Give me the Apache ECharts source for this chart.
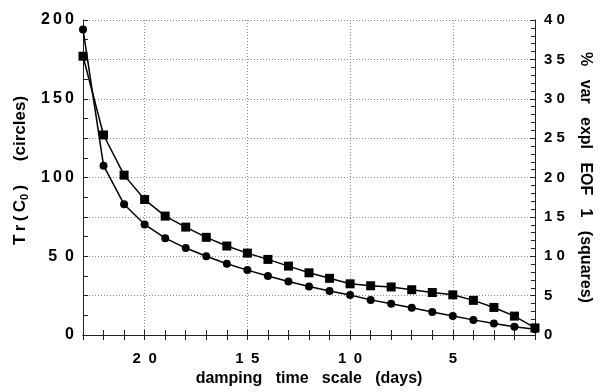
<!DOCTYPE html>
<html>
<head>
<meta charset="utf-8">
<script src="https://cdn.jsdelivr.net/npm/echarts@6/dist/echarts.min.js"></script>
<style>
  html, body { margin: 0; padding: 0; background: #fff; }
  #chart { width: 603px; height: 392px; }
</style>
</head>
<body>
<div id="chart"></div>
<script>
// Damping time scale (days), plotted from long to short
const days = [23, 22, 21, 20, 19, 18, 17, 16, 15, 14, 13, 12, 11, 10, 9, 8, 7, 6, 5, 4, 3, 2, 1];
// Trace of the covariance matrix C0 (circles, left axis)
const traceC0 = [194, 107.5, 83, 70.2, 61.5, 55.2, 50, 45.2, 41.2, 37.5, 34, 30.8, 27.9, 25.4, 22.3, 19.8, 17.3, 14.6, 12.1, 9.6, 7.3, 5.2, 3.7];
// Percent variance explained by EOF 1 (squares, right axis)
const varEOF1 = [35.4, 25.4, 20.3, 17.2, 15.1, 13.7, 12.4, 11.3, 10.4, 9.6, 8.75, 7.9, 7.2, 6.5, 6.25, 6.1, 5.75, 5.4, 5.1, 4.4, 3.5, 2.4, 0.9];
// Labelled x ticks and their printed text
const xTickDays = [20, 15, 10, 5];
const xTickText = ['2\u20020', '1\u20025', '1\u20020', '5'];
const leftTickText = { 0: '0', 50: '5\u20020', 100: '1\u20090\u20090', 150: '1\u20095\u20090', 200: '2\u20090\u20090' };
const rightTickText = { 0: '0', 5: '5', 10: '1 0', 15: '1 5', 20: '2 0', 25: '2 5', 30: '3 0', 35: '3 5', 40: '4 0' };

const FONT = "'Liberation Sans', Arial, sans-serif";
const axisColor = '#222';
const gridLine = { show: true, lineStyle: { color: '#888', type: [1, 2], width: 1 } };
const labelStyle = { color: '#000', fontFamily: FONT, fontWeight: 'bold', fontSize: 15 };

const chart = echarts.init(document.getElementById('chart'), null, { renderer: 'canvas' });

const isLabelled = (idx, val) => xTickDays.indexOf(Number(val)) >= 0;

chart.setOption({
  animation: false,
  backgroundColor: '#fff',
  grid: { left: 83, right: 68, top: 20, bottom: 52, containLabel: false },
  xAxis: [
    {
      type: 'category',
      data: days.map(String),
      boundaryGap: false,
      position: 'bottom',
      axisLine: { lineStyle: { color: axisColor, width: 1 } },
      axisTick: { inside: true, length: 5, interval: 0, lineStyle: { color: axisColor } },
      axisLabel: Object.assign({}, labelStyle, {
        margin: 16,
        interval: isLabelled,
        formatter: v => xTickText[xTickDays.indexOf(Number(v))] || ''
      }),
      splitLine: Object.assign({}, gridLine, { interval: isLabelled }),
      name: 'damping   time   scale   (days)',
      nameLocation: 'middle',
      nameGap: 36,
      nameTextStyle: { color: '#000', fontFamily: FONT, fontWeight: 'bold', fontSize: 16 }
    },
    {
      type: 'category',
      data: days.map(String),
      boundaryGap: false,
      position: 'top',
      axisLine: { lineStyle: { color: axisColor, width: 1 } },
      axisTick: { inside: true, length: 5, interval: 0, lineStyle: { color: axisColor } },
      axisLabel: { show: false },
      splitLine: { show: false }
    }
  ],
  yAxis: [
    {
      type: 'value',
      min: 0, max: 200, interval: 25,
      position: 'left',
      axisLine: { show: true, lineStyle: { color: axisColor, width: 1 } },
      axisTick: { show: true, inside: true, length: 5, lineStyle: { color: axisColor } },
      minorTick: { show: true, splitNumber: 2, length: 5, lineStyle: { color: axisColor } },
      axisLabel: Object.assign({}, labelStyle, {
        fontSize: 16,
        margin: 9,
        formatter: v => leftTickText[v] !== undefined ? leftTickText[v] : ''
      }),
      splitLine: gridLine,
      name: '{a|T\u2009r\u2009(\u2009C}{s|0}{a|\u2009)     (circles)}',
      nameLocation: 'middle',
      nameRotate: 90,
      nameGap: 48,
      nameTextStyle: {
        padding: [0, 0, 0, 14],
        rich: {
          a: { color: '#000', fontFamily: FONT, fontWeight: 'bold', fontSize: 17 },
          s: { color: '#000', fontFamily: FONT, fontWeight: 'bold', fontSize: 11, padding: [9, 0, 0, 0] }
        }
      }
    },
    {
      type: 'value',
      min: 0, max: 40, interval: 5,
      position: 'right',
      axisLine: { show: true, lineStyle: { color: axisColor, width: 1 } },
      axisTick: { show: true, inside: true, length: 5, lineStyle: { color: axisColor } },
      minorTick: { show: true, splitNumber: 5, length: 4, lineStyle: { color: axisColor } },
      axisLabel: Object.assign({}, labelStyle, {
        margin: 9,
        formatter: v => rightTickText[v] !== undefined ? rightTickText[v] : ''
      }),
      splitLine: { show: false },
      name: '%   var   expl   EOF   1   (squares)',
      nameLocation: 'middle',
      nameRotate: -90,
      nameGap: 42,
      nameTextStyle: { color: '#000', fontFamily: FONT, fontWeight: 'bold', fontSize: 16 }
    }
  ],
  series: [
    {
      name: 'Tr(C0)',
      type: 'line',
      xAxisIndex: 0,
      yAxisIndex: 0,
      data: traceC0,
      symbol: 'circle',
      symbolSize: 8,
      clip: false,
      lineStyle: { color: '#000', width: 1.5 },
      itemStyle: { color: '#000' }
    },
    {
      name: '% var expl EOF 1',
      type: 'line',
      xAxisIndex: 0,
      yAxisIndex: 1,
      data: varEOF1,
      symbol: 'rect',
      symbolSize: 9,
      clip: false,
      lineStyle: { color: '#000', width: 1.5 },
      itemStyle: { color: '#000' }
    }
  ]
});
</script>
</body>
</html>
